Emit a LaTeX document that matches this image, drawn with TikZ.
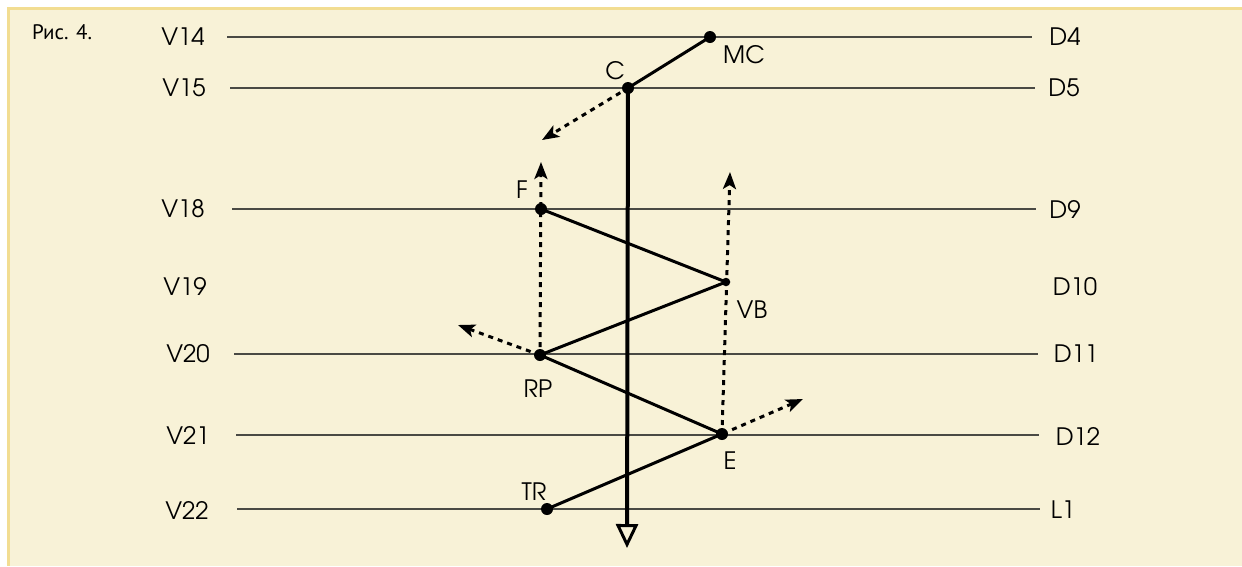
\documentclass[tikz,border=0pt]{standalone}
\usepackage{fontspec}
\setmainfont{texgyreadventor-regular.otf}
\newfontfamily\capfont{PT Sans}
\usetikzlibrary{arrows.meta}
\definecolor{cream}{HTML}{F8F2D7}
\definecolor{edge}{HTML}{F2DD92}
\definecolor{rule}{HTML}{4A4A44}
\tikzset{
  lbl/.style={inner sep=0pt, font=\fontsize{24}{24}\selectfont},
  dot/.style={circle, fill=black, inner sep=0pt, minimum size=12pt},
  smalldot/.style={circle, fill=black, inner sep=0pt, minimum size=8.5pt},
  level/.style={draw=rule, line width=1.1pt},
  solid link/.style={line width=3pt},
  shaft/.style={line width=4pt, -{Triangle[open, length=24pt, width=22pt, line width=3pt]}},
  dotarrow/.style={line width=3pt, dash pattern=on 5pt off 5pt,
     -{Stealth[length=17pt, width=13pt, inset=4pt]}},
}
\begin{document}
\begin{tikzpicture}[x=1pt, y=-1pt]
\useasboundingbox (0,0) rectangle (1242,566);
\fill[white] (0,0) rectangle (1242,566);
\fill[cream] (7,7) rectangle (1242,566);
\fill[edge] (7,7) rectangle (1242,10);
\fill[edge] (7,7) rectangle (10,566);

\node[anchor=west, inner sep=0pt, font=\capfont\fontsize{21}{21}\selectfont] (cap) at (32,32) {Рис. 4.};

% level labels
\node[lbl] (V14) at (183,37) {V14};
\node[lbl] (V15) at (184,88) {V15};
\node[lbl] (V18) at (183,209) {V18};
\node[lbl] (V19) at (185,286) {V19};
\node[lbl] (V20) at (188,354) {V20};
\node[lbl] (V21) at (188,435) {V21};
\node[lbl] (V22) at (187,510) {V22};
\node[lbl] (D4) at (1065,37) {D4};
\node[lbl] (D5) at (1064,88) {D5};
\node[lbl] (D9) at (1065,209) {D9};
\node[lbl] (D10) at (1075,287) {D10};
\node[lbl] (D11) at (1076,354) {D11};
\node[lbl] (D12) at (1078,436) {D12};
\node[lbl] (L1) at (1063,510) {L1};

% level line ends
\coordinate (a14) at (227,37);   \coordinate (b14) at (1032,37);
\coordinate (a15) at (230,88);   \coordinate (b15) at (1035,88);
\coordinate (a18) at (232,209);  \coordinate (b18) at (1036,209);
\coordinate (a20) at (234,354);  \coordinate (b20) at (1038,354);
\coordinate (a21) at (236,435);  \coordinate (b21) at (1039,435);
\coordinate (a22) at (237,509);  \coordinate (b22) at (1040,509);
\draw[level] (a14) -- (b14);
\draw[level] (a15) -- (b15);
\draw[level] (a18) -- (b18);
\draw[level] (a20) -- (b20);
\draw[level] (a21) -- (b21);
\draw[level] (a22) -- (b22);

% points
\node[dot] (MC) at (710,37) {};
\node[dot] (C) at (628,88) {};
\node[dot] (F) at (541,209) {};
\node[smalldot] (VB) at (726,282) {};
\node[dot] (RP) at (540,355) {};
\node[dot] (E) at (722,434) {};
\node[dot] (TR) at (547,509) {};

% point labels
\node[lbl] (lMC) at (744,55) {MC};
\node[lbl] (lC) at (615,71) {C};
\node[lbl] (lF) at (522,190) {F};
\node[lbl] (lVB) at (752,310) {VB};
\node[lbl] (lRP) at (538,389) {RP};
\node[lbl] (lE) at (730,461) {E};
\node[lbl] (lTR) at (534,492) {TR};

% arrow ends
\coordinate (down) at (627,548);
\coordinate (tC) at (542,140);
\coordinate (tF) at (541,162);
\coordinate (tVB) at (730,172);
\coordinate (tRP) at (458,325);
\coordinate (tE) at (803,399);

% dotted arrows
\draw[dotarrow, shorten <=9pt] (C.center) -- (tC);
\draw[dotarrow, shorten <=8pt] (RP.center) -- (tF);
\draw[dotarrow, shorten <=9pt] (E.center) -- (tVB);
\draw[dotarrow, shorten <=10pt] (RP.center) -- (tRP);
\draw[dotarrow, shorten <=11pt] (E.center) -- (tE);

% solid links
\draw[solid link] (C.center) -- (MC.center);
\draw[solid link] (F.center) -- (VB.center) -- (RP.center) -- (E.center) -- (TR.center);
\draw[shaft] (C.center) -- (down);
\end{tikzpicture}
\end{document}
